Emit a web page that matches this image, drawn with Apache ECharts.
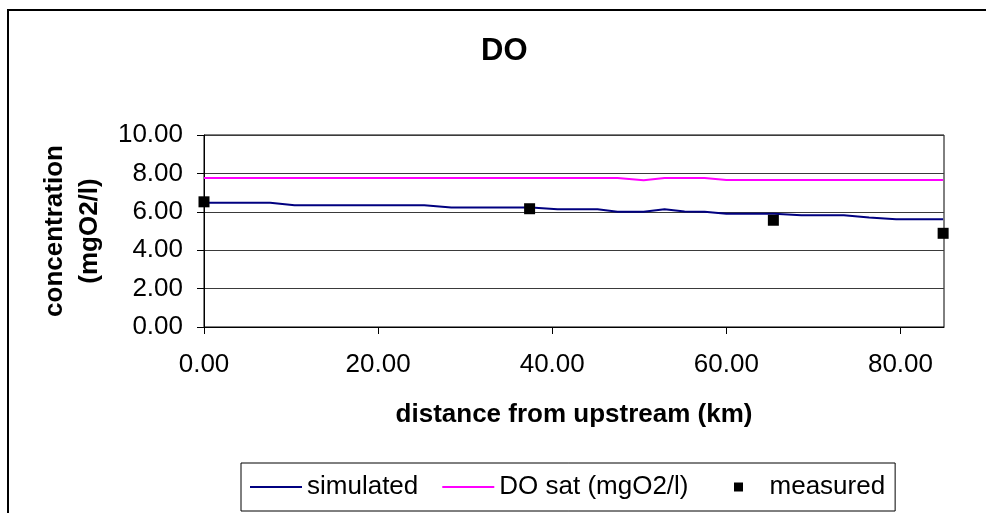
<!DOCTYPE html>
<html>
<head>
<meta charset="utf-8">
<script src="https://cdn.jsdelivr.net/npm/echarts@6/dist/echarts.min.js"></script>
<style>
  html, body { margin: 0; padding: 0; background: #fff; }
  #chart { width: 986px; height: 513px; }
</style>
</head>
<body>
<div id="chart"></div>
<script>
// Distance along the river (km) for the simulated profiles
const simDistance = [0, 1.4, 4.5, 7.6, 10.4, 13.5, 16.4, 19.4, 22.5, 25.3, 28.4, 31.4, 34.5, 37.6,
  40.6, 43.7, 45.2, 47.5, 50.5, 52.9, 55.2, 57.5, 60.0, 62.6, 65.5, 68.6, 70.9, 73.5, 76.4, 79.5, 82.3, 84.9];
// Simulated dissolved oxygen (mgO2/l)
const simulatedDO = [6.47, 6.47, 6.47, 6.47, 6.34, 6.34, 6.34, 6.34, 6.34, 6.34, 6.22, 6.22, 6.22, 6.22,
  6.13, 6.13, 6.13, 6.00, 6.00, 6.13, 6.02, 6.00, 5.90, 5.90, 5.90, 5.82, 5.82, 5.82, 5.70, 5.61, 5.61, 5.61];
// Saturation dissolved oxygen (mgO2/l)
const saturationDO = [7.76, 7.76, 7.76, 7.76, 7.76, 7.76, 7.76, 7.76, 7.76, 7.76, 7.76, 7.76, 7.76, 7.76,
  7.76, 7.76, 7.76, 7.76, 7.64, 7.76, 7.76, 7.76, 7.66, 7.66, 7.66, 7.66, 7.66, 7.66, 7.66, 7.66, 7.66, 7.66];
// Field measurements
const measuredDistance = [0, 37.4, 65.4, 84.9];
const measuredDO = [6.52, 6.16, 5.56, 4.88];
// Axis ticks
const xTicks = [0, 20, 40, 60, 80];

const FONT = '"Liberation Sans", Arial, sans-serif';
const pairs = (xs, ys) => xs.map((x, i) => [x, ys[i]]);

// Legend samples: a 2px stroke and a small square, each inside a 52x10 box
const LINE_ICON = 'path://M0,0L0,0M0,10L0,10M0,4L52,4L52,6L0,6Z';
const SQUARE_ICON = 'path://M0,0L0,0M52,10L52,10M21.5,0.5L30.5,0.5L30.5,9.5L21.5,9.5Z';

const chart = echarts.init(document.getElementById('chart'), null, { renderer: 'canvas' });

chart.setOption({
  backgroundColor: '#ffffff',
  animation: false,
  title: {
    text: 'DO',
    left: 481,
    top: 36,
    padding: 0,
    textStyle: { fontFamily: FONT, fontSize: 31, fontWeight: 'bold', color: '#000' }
  },
  graphic: [{
    type: 'rect',
    shape: { x: 8, y: 10, width: 1100, height: 700 },
    style: { fill: 'none', stroke: '#000', lineWidth: 2 },
    silent: true
  }],
  grid: {
    left: 204, top: 135, right: 42, bottom: 186,
    show: true, borderColor: '#000', borderWidth: 1
  },
  xAxis: {
    type: 'value',
    min: 0, max: 85,
    name: 'distance from upstream (km)',
    nameLocation: 'middle',
    nameGap: 75,
    nameTextStyle: { fontFamily: FONT, fontSize: 26, fontWeight: 'bold', color: '#000' },
    axisLine: { show: true, lineStyle: { color: '#000', width: 1 } },
    axisTick: { show: true, length: 7, inside: false, customValues: xTicks, lineStyle: { color: '#000' } },
    axisLabel: {
      customValues: xTicks, margin: 25,
      fontFamily: FONT, fontSize: 26, color: '#000',
      formatter: v => v.toFixed(2)
    },
    splitLine: { show: false }
  },
  yAxis: {
    type: 'value',
    min: 0, max: 10, interval: 2,
    name: 'concentration\n(mgO2/l)',
    nameLocation: 'middle',
    nameRotate: 90,
    nameGap: 96,
    nameTextStyle: { fontFamily: FONT, fontSize: 26, fontWeight: 'bold', color: '#000', lineHeight: 35 },
    axisLine: { show: true, lineStyle: { color: '#000', width: 1 } },
    axisTick: { show: true, length: 7, inside: false, lineStyle: { color: '#000' } },
    axisLabel: {
      margin: 21,
      fontFamily: FONT, fontSize: 26, color: '#000',
      formatter: v => v.toFixed(2)
    },
    splitLine: { show: true, lineStyle: { color: '#3a3a3a', width: 1 } }
  },
  legend: {
    left: 241, top: 463,
    padding: [11, 10, 11, 9],
    borderColor: '#000', borderWidth: 1,
    backgroundColor: '#fff',
    itemWidth: 52, itemHeight: 10, itemGap: 24,
    textStyle: { fontFamily: FONT, fontSize: 26, color: '#000' },
    data: [
      { name: 'simulated', icon: LINE_ICON },
      { name: 'DO sat (mgO2/l)', icon: LINE_ICON },
      { name: 'measured', icon: SQUARE_ICON }
    ]
  },
  series: [
    {
      name: 'simulated',
      type: 'line',
      data: pairs(simDistance, simulatedDO),
      symbol: 'none',
      lineStyle: { color: '#000080', width: 2 },
      itemStyle: { color: '#000080' },
      z: 3
    },
    {
      name: 'DO sat (mgO2/l)',
      type: 'line',
      data: pairs(simDistance, saturationDO),
      symbol: 'none',
      lineStyle: { color: '#ff00ff', width: 2 },
      itemStyle: { color: '#ff00ff' },
      z: 3
    },
    {
      name: 'measured',
      type: 'scatter',
      data: pairs(measuredDistance, measuredDO),
      symbol: 'rect',
      symbolSize: 11,
      itemStyle: { color: '#000', opacity: 1 },
      z: 4
    }
  ]
});
</script>
</body>
</html>
